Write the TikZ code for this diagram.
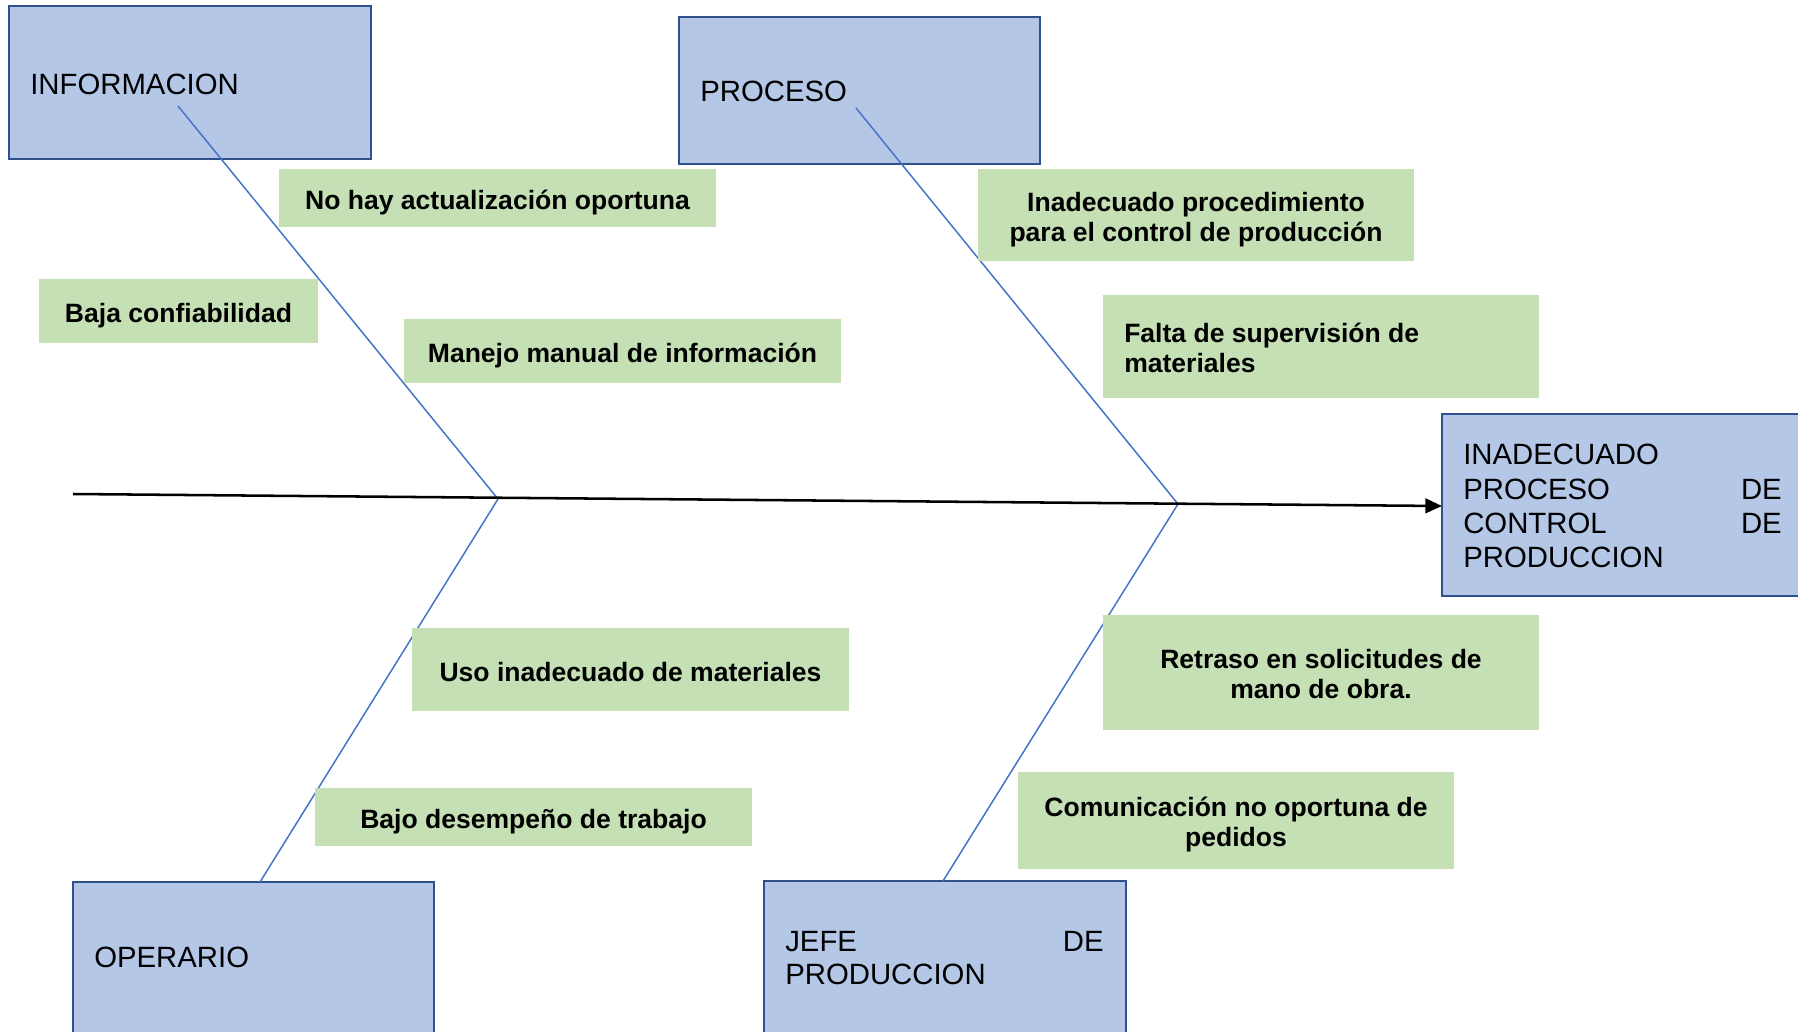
\documentclass[tikz,border=0pt]{standalone}
\usepackage{fontspec}
\setmainfont{Liberation Sans}
\usetikzlibrary{arrows.meta,fit}
\definecolor{bfill}{HTML}{B4C7E7}
\definecolor{bdraw}{HTML}{2F528F}
\definecolor{gfill}{HTML}{C5E0B4}
\definecolor{bline}{HTML}{4472C4}
\tikzset{
  bluebox/.style={draw=bdraw, fill=bfill, line width=1.9pt, inner sep=0pt},
  greenbox/.style={fill=gfill, draw=none, inner sep=0pt},
  bluetext/.style={font=\fontsize{22}{25.9}\selectfont, inner sep=0pt, anchor=base west},
  greentext/.style={font=\fontsize{19.9}{22.5}\selectfont\bfseries, inner sep=0pt, align=center, yshift=-3.2pt},
  bone/.style={draw=bline, line width=1.1pt},
  spine/.style={draw=black, line width=1.9pt, -{Triangle[length=12.5pt,width=11pt]}}
}
\begin{document}
\begin{tikzpicture}[x=0.75pt,y=-0.75pt]
\clip (0,0) rectangle (1798,1031);
\fill[white] (0,0) rectangle (1798,1031);

% blue category boxes
\node[bluebox, fit={(9,6)(371,159)}] (info) {};
\node[bluetext] (infoT) at (30,94) {INFORMACION};
\node[bluebox, fit={(679,17)(1040,164)}] (proc) {};
\node[bluetext] (procT) at (700,101) {PROCESO};
\node[bluebox, fit={(73,882)(434,1045)}] (oper) {};
\node[bluetext] (operT) at (94,967) {OPERARIO};
\node[bluebox, fit={(764,881)(1126,1045)}] (jefe) {};
\node[bluetext] (jefeT1) at (785,951) {JEFE};
\node[bluetext, anchor=base east] (jefeT2) at (1104,951) {DE};
\node[bluetext] (jefeT3) at (785,984) {PRODUCCION};

% effect box
\node[bluebox, fit={(1442,414)(1812,596)}] (effect) {};
\node[bluetext] (e1) at (1463,464) {INADECUADO};
\node[bluetext, anchor=base east] (e2b) at (1782,499) {DE};
\node[bluetext] (e2) at (1463,499) {PROCESO};
\node[bluetext] (e3) at (1463,533) {CONTROL};
\node[bluetext, anchor=base east] (e3b) at (1782,533) {DE};
\node[bluetext] (e4) at (1463,567) {PRODUCCION};

% coordinates
\coordinate (tail) at (73,494);
\coordinate (head) at (1442,506);
\coordinate (j1) at (498,499);
\coordinate (j2) at (1178,504);
\coordinate (infoS) at (178,106);
\coordinate (procS) at (856,108);
\coordinate (operS) at (260,882);
\coordinate (jefeS) at (943,881);

% bones
\draw[bone] (infoS) -- (j1);
\draw[bone] (operS) -- (j1);
\draw[bone] (procS) -- (j2);
\draw[bone] (jefeS) -- (j2);
\draw[spine] (tail) -- (head);

% green cause boxes
\node[greenbox, fit={(279,169)(716,227)}] (g1) {};
\node[greentext] (g1T) at (g1.center) {No hay actualización oportuna};
\node[greenbox, fit={(39,279)(318,343)}] (g2) {};
\node[greentext] (g2T) at (g2.center) {Baja confiabilidad};
\node[greenbox, fit={(404,319)(841,383)}] (g3) {};
\node[greentext] (g3T) at (g3.center) {Manejo manual de información};
\node[greenbox, fit={(978,169)(1414,261)}] (g4) {};
\node[greentext, yshift=-0.6pt] (g4T) at (g4.center) {Inadecuado procedimiento\\para el control de producción};
\node[greenbox, fit={(1103,295)(1539,398)}] (g5) {};
\node[greentext, align=left, anchor=west, yshift=3.2pt] (g5T) at (1124,348) {Falta de supervisión de\\materiales};
\node[greenbox, fit={(412,628)(849,711)}] (g6) {};
\node[greentext, yshift=1.5pt] (g6T) at (g6.center) {Uso inadecuado de materiales};
\node[greenbox, fit={(315,788)(752,846)}] (g7) {};
\node[greentext] (g7T) at (g7.center) {Bajo desempeño de trabajo};
\node[greenbox, fit={(1103,615)(1539,730)}] (g8) {};
\node[greentext, yshift=2pt] (g8T) at (g8.center) {Retraso en solicitudes de\\mano de obra.};
\node[greenbox, fit={(1018,772)(1454,869)}] (g9) {};
\node[greentext] (g9T) at (g9.center) {Comunicación no oportuna de\\pedidos};
\end{tikzpicture}
\end{document}
